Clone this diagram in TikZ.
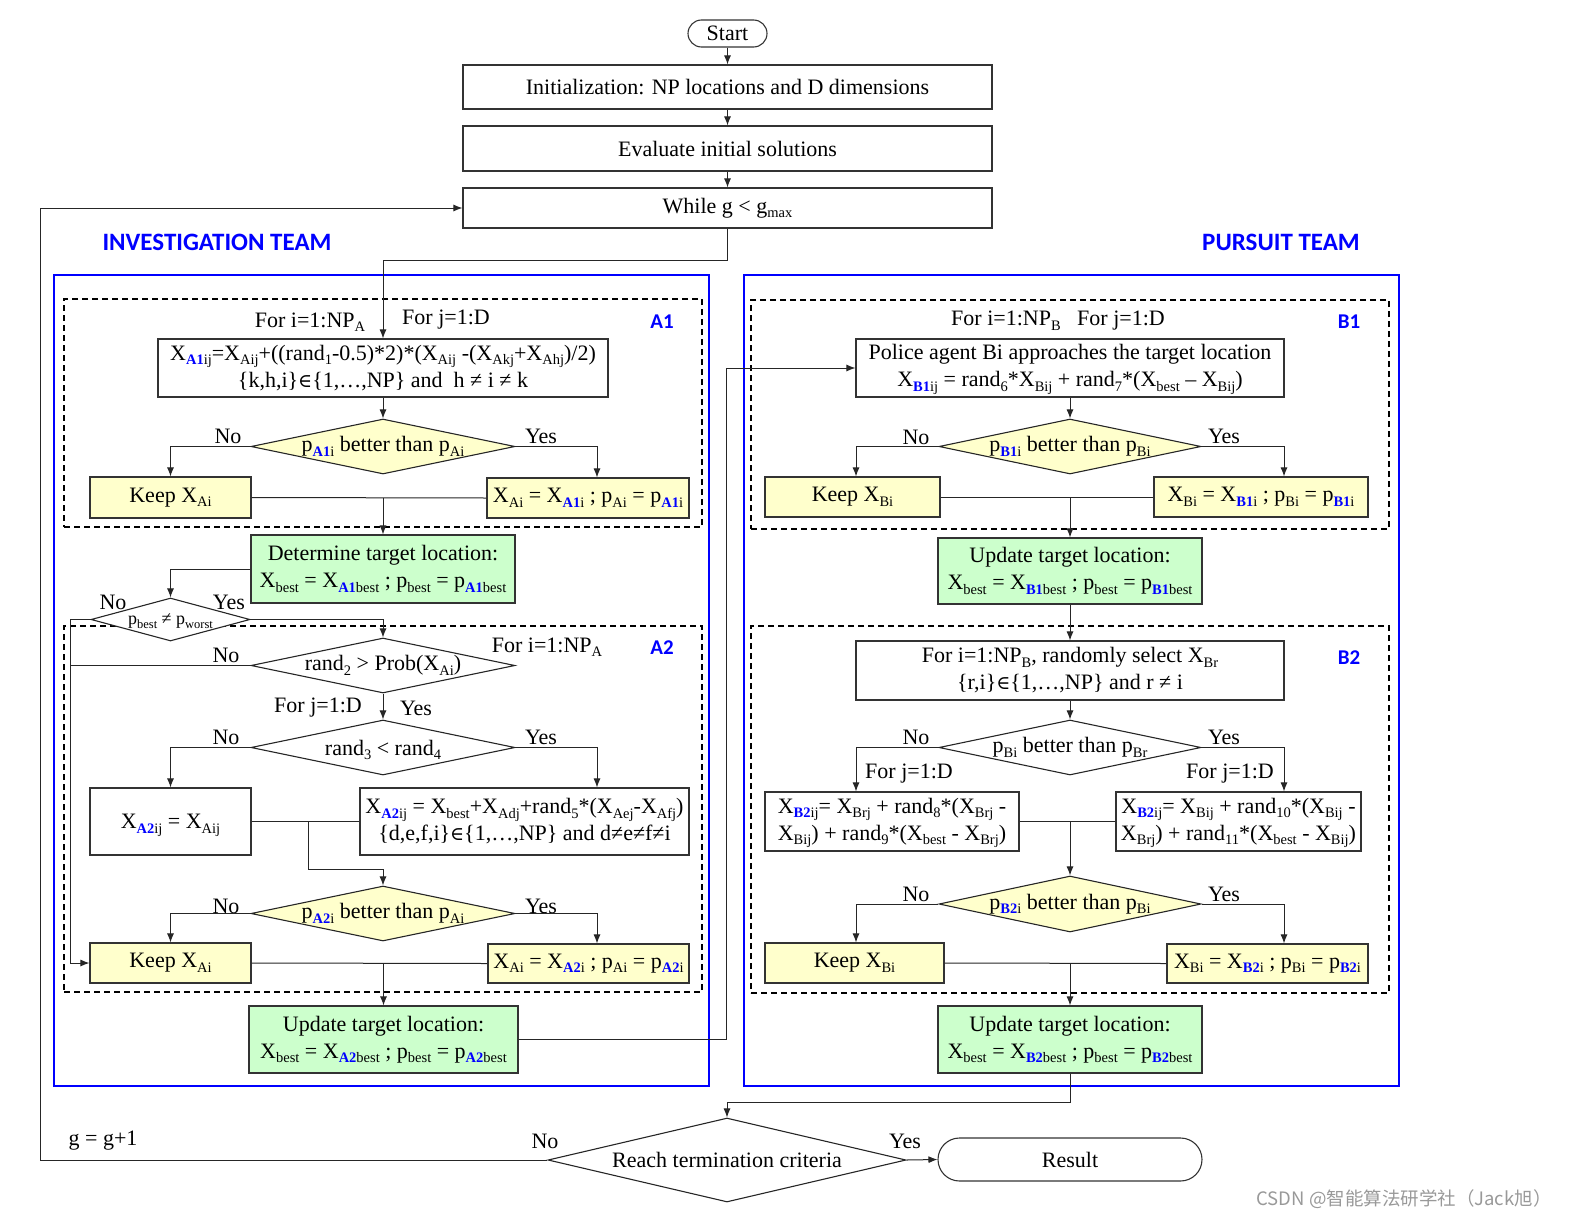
\documentclass[tikz,border=0pt]{standalone}
\usepackage{fontspec}
\setmainfont{Liberation Serif}
\newfontfamily\symf{DejaVu Serif}
\newfontfamily\teamf{Carlito}
\newfontfamily\cjkf{Noto Sans CJK SC}
\usetikzlibrary{shapes.geometric,arrows.meta,calc}
\definecolor{yel}{HTML}{FFFFCC}
\definecolor{grn}{HTML}{CCFFCC}
\newcommand{\mysub}[1]{\raisebox{-4.5pt}[0pt][0pt]{\fontsize{14.5}{14.5}\selectfont #1}}
\newcommand{\mysubsm}[1]{\raisebox{-3.5pt}[0pt][0pt]{\fontsize{12.5}{12.5}\selectfont #1}}
\newcommand{\myblue}[1]{\textcolor{blue}{\bfseries #1}}
\newcommand{\inn}{{\symf\fontsize{19}{19}\selectfont ∈}}
\begin{document}
\begin{tikzpicture}[x=1pt,y=-1pt,
 every node/.style={font=\fontsize{22}{27}\selectfont, inner sep=0pt},
 box/.style={draw=black!80, line width=1.1pt, align=center, rectangle},
 ybox/.style={box, fill=yel},
 gbox/.style={box, fill=grn},
 stadium/.style={box, rounded corners=#1},
 dia/.style={diamond, draw=black!85, line width=1.1pt},
 ydia/.style={dia, fill=yel},
 teambox/.style={draw=blue, line width=2.4pt, rectangle},
 dbox/.style={draw=black, dash pattern=on 6pt off 4pt, line width=1.3pt, rectangle},
 ln/.style={line width=1pt, draw=black!85},
 arr/.style={ln, -{Latex[length=9pt,width=7pt]}},
 tag/.style={text=blue, font=\teamf\bfseries\fontsize{21}{21}\selectfont},
 team/.style={text=blue, font=\teamf\bfseries\fontsize{25}{25}\selectfont}
]
\useasboundingbox (0,0) rectangle (1573,1223);

% ---------- frames ----------
\node[teambox, minimum width=655, minimum height=811] (teamA) at (381.5,680.5) {};
\node[teambox, minimum width=655, minimum height=811] (teamB) at (1071.5,680.5) {};
\node[dbox, minimum width=638, minimum height=228] (boxA1) at (383,413) {};
\node[dbox, minimum width=638, minimum height=366] (boxA2) at (383,809) {};
\node[dbox, minimum width=638, minimum height=229] (boxB1) at (1070,414.5) {};
\node[dbox, minimum width=638, minimum height=367] (boxB2) at (1070,809.5) {};

\node[team] (tA) at (217,242) {INVESTIGATION TEAM};
\node[team] (tB) at (1281,242) {PURSUIT TEAM};
\node[tag] (lA1) at (662,322) {A1};
\node[tag] (lA2) at (662,648) {A2};
\node[tag] (lB1) at (1349,322) {B1};
\node[tag] (lB2) at (1349,658) {B2};

% ---------- top ----------
\node[stadium=13.5pt, minimum width=79, minimum height=27] (start) at (727.5,33.5) {Start};
\node[box, minimum width=529, minimum height=44] (init) at (727.5,87) {Initialization: NP locations and D dimensions};
\node[box, minimum width=529, minimum height=45] (eval) at (727.5,148.5) {Evaluate initial solutions};
\node[box, minimum width=529, minimum height=40] (while) at (727.5,208) {While g < g\mysub{max}};

% ---------- A1 ----------
\node (fiA) at (310,320) {For i=1:NP\mysub{A}};
\node (fjA) at (446,320) {For j=1:D};
\node[box, minimum width=450, minimum height=58] (f1) at (383,368) {X\mysub{\myblue{A1}ij}=X\mysub{Aij}+((rand\mysub{1}-0.5)*2)*(X\mysub{Aij} -(X\mysub{Akj}+X\mysub{Ahj})/2)\\\{k,h,i\}\inn\{1,…,NP\} and\ \ h ≠ i ≠ k};
\node[ydia, minimum width=264, minimum height=55] (d1) at (383,446.5) {};
\node (d1t) at (d1.center) {p\mysub{\myblue{A1}i} better than p\mysub{Ai}};
\node[ybox, minimum width=161, minimum height=41] (keep1) at (170.5,497.5) {Keep X\mysub{Ai}};
\node[ybox, minimum width=202, minimum height=40] (res1) at (588,498) {X\mysub{Ai} = X\mysub{\myblue{A1}i} ; p\mysub{Ai} = p\mysub{\myblue{A1}i}};
\node[gbox, minimum width=264, minimum height=68] (det) at (383,569) {Determine target location:\\X\mysub{best} = X\mysub{\myblue{A1}best} ; p\mysub{best} = p\mysub{\myblue{A1}best}};
\node (no1) at (228,436) {No};
\node (yes1) at (541,436) {Yes};

% ---------- A2 ----------
\node[dia, fill=white, minimum width=159, minimum height=43] (sd) at (170.5,619.5) {};
\node[font=\fontsize{18}{18}\selectfont] (sdt) at ([yshift=-2pt]sd.center) {p\mysubsm{best} ≠ p\mysubsm{worst}};
\node (nosd) at (113,602) {No};
\node (yessd) at (229,602) {Yes};
\node[dia, fill=white, minimum width=264, minimum height=55] (r2) at (383,665.5) {};
\node (r2t) at (r2.center) {rand\mysub{2} > Prob(X\mysub{Ai})};
\node (fiA2) at (547,645) {For i=1:NP\mysub{A}};
\node (no2) at (226,655) {No};
\node (fjA2) at (318,708) {For j=1:D};
\node (yes2) at (416,708) {Yes};
\node[dia, fill=white, minimum width=264, minimum height=55] (r3) at (383,747.5) {};
\node (r3t) at (r3.center) {rand\mysub{3} < rand\mysub{4}};
\node (no3) at (226,737) {No};
\node (yes3) at (541,737) {Yes};
\node[box, minimum width=161, minimum height=67] (xa2) at (170.5,821.5) {X\mysub{\myblue{A2}ij} = X\mysub{Aij}};
\node[box, minimum width=329, minimum height=67] (xf) at (524.5,821.5) {X\mysub{\myblue{A2}ij} = X\mysub{best}+X\mysub{Adj}+rand\mysub{5}*(X\mysub{Aej}-X\mysub{Afj})\\\{d,e,f,i\}\inn\{1,…,NP\} and d≠e≠f≠i};
\node[ydia, minimum width=264, minimum height=55] (d2) at (383,913.5) {};
\node (d2t) at (d2.center) {p\mysub{\myblue{A2}i} better than p\mysub{Ai}};
\node (no4) at (226,906) {No};
\node (yes4) at (541,906) {Yes};
\node[ybox, minimum width=161, minimum height=40] (keep2) at (170.5,963) {Keep X\mysub{Ai}};
\node[ybox, minimum width=201, minimum height=39] (res2) at (588.5,963.5) {X\mysub{Ai} = X\mysub{\myblue{A2}i} ; p\mysub{Ai} = p\mysub{\myblue{A2}i}};
\node[gbox, minimum width=269, minimum height=67] (upd2) at (383.5,1039.5) {Update target location:\\X\mysub{best} = X\mysub{\myblue{A2}best} ; p\mysub{best} = p\mysub{\myblue{A2}best}};

% ---------- B1 ----------
\node (fiB) at (1058,321) {For i=1:NP\mysub{B}\ \ \ For j=1:D};
\node[box, minimum width=428, minimum height=58] (police) at (1070,368) {Police agent Bi approaches the target location\\X\mysub{\myblue{B1}ij} = rand\mysub{6}*X\mysub{Bij} + rand\mysub{7}*(X\mysub{best} – X\mysub{Bij})};
\node[ydia, minimum width=262, minimum height=55] (d3) at (1070,446.5) {};
\node (d3t) at (d3.center) {p\mysub{\myblue{B1}i} better than p\mysub{Bi}};
\node (no5) at (916,437) {No};
\node (yes5) at (1224,436) {Yes};
\node[ybox, minimum width=175, minimum height=40] (keep3) at (852.5,497) {Keep X\mysub{Bi}};
\node[ybox, minimum width=214, minimum height=40] (res3) at (1261,497) {X\mysub{Bi} = X\mysub{\myblue{B1}i} ; p\mysub{Bi} = p\mysub{\myblue{B1}i}};
\node[gbox, minimum width=264, minimum height=66] (upd3) at (1070,571) {Update target location:\\X\mysub{best} = X\mysub{\myblue{B1}best} ; p\mysub{best} = p\mysub{\myblue{B1}best}};

% ---------- B2 ----------
\node[box, minimum width=428, minimum height=59] (fori) at (1070,670.5) {For i=1:NP\mysub{B}, randomly select X\mysub{Br}\\\{r,i\}\inn\{1,…,NP\} and r ≠ i};
\node[dia, fill=white, minimum width=262, minimum height=55] (d4) at (1070,747.5) {};
\node (d4t) at (d4.center) {p\mysub{Bi} better than p\mysub{Br}};
\node (no6) at (916,737) {No};
\node (yes6) at (1224,737) {Yes};
\node (fjB1) at (909,774) {For j=1:D};
\node (fjB2) at (1230,774) {For j=1:D};
\node[box, minimum width=254, minimum height=59] (b2l) at (892,821.5) {X\mysub{\myblue{B2}ij}= X\mysub{Brj} + rand\mysub{8}*(X\mysub{Brj} -\\X\mysub{Bij}) + rand\mysub{9}*(X\mysub{best} - X\mysub{Brj})};
\node[box, minimum width=245, minimum height=59] (b2r) at (1238.5,821.5) {X\mysub{\myblue{B2}ij}= X\mysub{Bij} + rand\mysub{10}*(X\mysub{Bij} -\\X\mysub{Brj}) + rand\mysub{11}*(X\mysub{best} - X\mysub{Bij})};
\node[ydia, minimum width=262, minimum height=56] (d5) at (1070,904) {};
\node (d5t) at (d5.center) {p\mysub{\myblue{B2}i} better than p\mysub{Bi}};
\node (no7) at (916,894) {No};
\node (yes7) at (1224,894) {Yes};
\node[ybox, minimum width=179, minimum height=40] (keep4) at (854.5,963) {Keep X\mysub{Bi}};
\node[ybox, minimum width=201, minimum height=39] (res4) at (1267.5,963.5) {X\mysub{Bi} = X\mysub{\myblue{B2}i} ; p\mysub{Bi} = p\mysub{\myblue{B2}i}};
\node[gbox, minimum width=264, minimum height=67] (upd4) at (1070,1039.5) {Update target location:\\X\mysub{best} = X\mysub{\myblue{B2}best} ; p\mysub{best} = p\mysub{\myblue{B2}best}};

% ---------- bottom ----------
\node[dia, minimum width=358, minimum height=84] (term) at (727,1160) {};
\node (termt) at (term.center) {Reach termination criteria};
\node[stadium=21.5pt, minimum width=264, minimum height=43] (result) at (1070,1159.5) {Result};
\node (noT) at (545,1141) {No};
\node (yesT) at (905,1141) {Yes};
\node (gg) at (103,1141) {g = g+1};
\node[font=\cjkf\fontsize{18.5}{18.5}\selectfont, text=black!40] (wm) at (1404,1199) {CSDN @智能算法研学社（Jack旭）};

% ---------- connectors ----------
\draw[arr] (start.south) -- (init.north);
\draw[arr] (init.south) -- (eval.north);
\draw[arr] (eval.south) -- (while.north);
\draw[arr] (while.south) -- ++(0,32) -| (f1.north);

\draw[arr] (f1.south) -- (d1.north);
\draw[arr] (d1.west) -| (keep1.north);
\draw[arr] (d1.east) -| ([xshift=9pt]res1.north);
\draw[ln] (keep1.east) -- (res1.west);
\draw[arr] (det.north |- keep1.east) -- (det.north);
\draw[arr] (det.west) -| (sd.north);
\draw[arr] (sd.east) -| (r2.north);
\draw[arr] (sd.west) -- ++(-20,0) |- (keep2.west);
\draw[ln] (r2.west) -- ++(-180,0);
\draw[arr] (r2.south) -- (r3.north);
\draw[arr] (r3.west) -| (xa2.north);
\draw[arr] (r3.east) -| ([xshift=72.5pt]xf.north);
\draw[ln] (xa2.east) -- (xf.west);
\coordinate (j2) at (308,821.5);
\draw[arr] (j2) |- ([yshift=16pt]d2.north) -- (d2.north);
\draw[arr] (d2.west) -| (keep2.north);
\draw[arr] (d2.east) -| ([xshift=8.5pt]res2.north);
\draw[ln] (keep2.east) -- (res2.west);
\draw[arr] (upd2.north |- keep2.east) -- (upd2.north);
\draw[arr] (upd2.east) -| ([xshift=-129pt]police.west) -- (police.west);

\draw[arr] (police.south) -- (d3.north);
\draw[arr] (d3.west) -| ([xshift=3.5pt]keep3.north);
\draw[arr] (d3.east) -| ([xshift=23pt]res3.north);
\draw[ln] (keep3.east) -- (res3.west);
\draw[arr] (upd3.north |- keep3.east) -- (upd3.north);
\draw[arr] (upd3.south) -- (fori.north);
\draw[arr] (fori.south) -- (d4.north);
\draw[arr] (d4.west) -| ([xshift=-36pt]b2l.north);
\draw[arr] (d4.east) -| ([xshift=45.5pt]b2r.north);
\draw[ln] (b2l.east) -- (b2r.west);
\draw[arr] (d5.north |- b2l.east) -- (d5.north);
\draw[arr] (d5.west) -| ([xshift=1.5pt]keep4.north);
\draw[arr] (d5.east) -| ([xshift=16.5pt]res4.north);
\draw[ln] (keep4.east) -- (res4.west);
\draw[arr] (upd4.north |- keep4.east) -- (upd4.north);
\draw[arr] (upd4.south) -- ++(0,29) -| (term.north);
\draw[arr] (term.east) -- (result.west);
\draw[arr] (term.west) -- ++(-507,0) |- (while.west);
\end{tikzpicture}
\end{document}
